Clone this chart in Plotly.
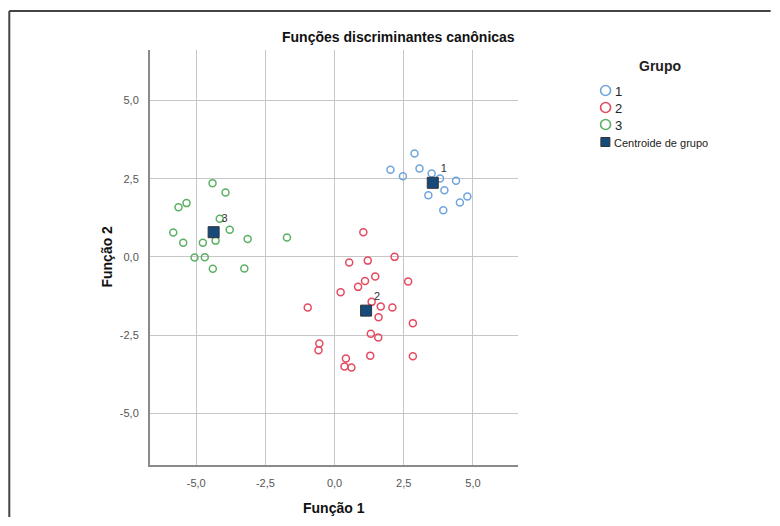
import plotly.graph_objects as go

# ---- data ----
g1_x = [2.89, 2.02, 2.47, 3.07, 3.51, 3.81, 4.39, 3.97, 3.39, 4.80, 4.53, 3.93]
g1_y = [3.31, 2.79, 2.58, 2.83, 2.67, 2.51, 2.44, 2.13, 1.97, 1.93, 1.74, 1.49]

g2_x = [1.04, 0.53, 1.20, 2.17, 1.47, 1.10, 2.66, 0.85, 0.22, -0.97, 1.34, 1.67,
        2.09, 1.59, 2.83, 1.31, 1.58, -0.55, -0.58, 1.29, 2.83, 0.41, 0.36, 0.61]
g2_y = [0.79, -0.18, -0.12, 0.00, -0.63, -0.77, -0.79, -0.96, -1.13, -1.62, -1.44, -1.59,
        -1.62, -1.93, -2.12, -2.46, -2.58, -2.77, -2.99, -3.16, -3.18, -3.25, -3.51, -3.54]

g3_x = [-4.41, -3.94, -5.64, -5.35, -4.15, -3.79, -5.83, -5.47, -4.76, -4.30, -3.14, -1.72,
        -5.06, -4.69, -4.40, -3.26]
g3_y = [2.36, 2.06, 1.59, 1.72, 1.22, 0.87, 0.78, 0.45, 0.45, 0.52, 0.57, 0.62,
        -0.02, -0.01, -0.38, -0.37]

cent_x = [3.55, 1.14, -4.37]
cent_y = [2.37, -1.72, 0.79]
cent_labels = ["1", "2", "3"]

tick_vals = [-5.0, -2.5, 0.0, 2.5, 5.0]
tick_labels = ["-5,0", "-2,5", "0,0", "2,5", "5,0"]
legend_labels = ["1", "2", "3"]
colors = ["#6fa5dd", "#e5495f", "#5bb062"]
cent_color = "#164a7b"

# ---- layout geometry (screen pixels; page body has an 8px margin) ----
OFF = 8
W, H = 780 - 2 * OFF, 526 - 2 * OFF
L, R, T, B = 149.5 - OFF, 518.0 - OFF, 50.0 - OFF, 465.0 - OFF
pw, ph = R - L, B - T


def px(xp):
    return (xp - OFF - L) / pw


def py(yp):
    return (B - (yp - OFF)) / ph


fig = go.Figure()
for xs, ys, c in zip([g1_x, g2_x, g3_x], [g1_y, g2_y, g3_y], colors):
    fig.add_trace(go.Scatter(
        x=xs, y=ys, mode="markers", showlegend=False,
        marker=dict(symbol="circle-open", size=7, color=c, line=dict(width=1.5, color=c)),
        hoverinfo="x+y"))

fig.add_trace(go.Scatter(
    x=cent_x, y=cent_y, mode="markers+text", text=cent_labels, showlegend=False,
    textposition="top right", textfont=dict(family="Liberation Sans, Arial", size=11, color="#333"),
    marker=dict(symbol="square", size=11, color=cent_color, line=dict(width=1, color="#333"))))

shapes = []
annotations = []

# outer frame (top and left lines)
shapes.append(dict(type="line", xref="paper", yref="paper",
                   x0=px(8.5), x1=px(OFF + W - 1), y0=py(11), y1=py(11),
                   line=dict(color="#444", width=2)))
shapes.append(dict(type="line", xref="paper", yref="paper",
                   x0=px(8.6), x1=px(8.6), y0=py(11), y1=py(OFF + H - 1),
                   line=dict(color="#444", width=2)))

# manual legend
annotations.append(dict(xref="paper", yref="paper", x=px(660), y=py(66), text="<b>Grupo</b>",
                        showarrow=False, xanchor="center", yanchor="middle",
                        font=dict(family="Liberation Sans, Arial", size=14, color="#222")))
leg_y = [90.5, 107.5, 124.5]
for lab, c, yy in zip(legend_labels, colors, leg_y):
    shapes.append(dict(type="circle", xref="paper", yref="paper",
                       xsizemode="pixel", ysizemode="pixel",
                       xanchor=px(605.7), yanchor=py(yy),
                       x0=-5, x1=5, y0=-5, y1=5,
                       line=dict(color=c, width=1.6), fillcolor="rgba(0,0,0,0)"))
    annotations.append(dict(xref="paper", yref="paper", x=px(613), y=py(yy + 0.5), text=lab,
                            showarrow=False, xanchor="left", yanchor="middle",
                            font=dict(family="Liberation Sans, Arial", size=13, color="#222")))
shapes.append(dict(type="rect", xref="paper", yref="paper",
                   xsizemode="pixel", ysizemode="pixel",
                   xanchor=px(605.5), yanchor=py(142),
                   x0=-4.5, x1=4.5, y0=-4.5, y1=4.5,
                   line=dict(color="#333", width=1), fillcolor=cent_color))
annotations.append(dict(xref="paper", yref="paper", x=px(612), y=py(142.5), text="Centroide de grupo",
                        showarrow=False, xanchor="left", yanchor="middle",
                        font=dict(family="Liberation Sans, Arial", size=11, color="#222")))

# titles
annotations.append(dict(xref="paper", yref="paper", x=px(398), y=py(37),
                        text="<b>Funções discriminantes canônicas</b>", showarrow=False,
                        xanchor="center", yanchor="middle",
                        font=dict(family="Liberation Sans, Arial", size=14, color="#111")))
annotations.append(dict(xref="paper", yref="paper", x=px(334), y=py(508),
                        text="<b>Função 1</b>", showarrow=False,
                        xanchor="center", yanchor="middle",
                        font=dict(family="Liberation Sans, Arial", size=14, color="#111")))
annotations.append(dict(xref="paper", yref="paper", x=px(106), y=py(257),
                        text="<b>Função 2</b>", showarrow=False, textangle=-90,
                        xanchor="center", yanchor="middle",
                        font=dict(family="Liberation Sans, Arial", size=14, color="#111")))

axis_common = dict(
    tickvals=tick_vals, ticktext=tick_labels, showgrid=True, gridcolor="#c6c6c6", gridwidth=1,
    zeroline=False, showline=True, linecolor="#8a8a8a", linewidth=2,
    ticks="", tickfont=dict(family="Liberation Sans, Arial", size=11, color="#555"),
    ticklabelstandoff=7, fixedrange=True)

fig.update_layout(
    width=W, height=H, autosize=False,
    margin=dict(l=L, r=W - R, t=T, b=H - B, pad=0),
    paper_bgcolor="white", plot_bgcolor="white",
    showlegend=False,
    xaxis=dict(range=[-6.67, 6.63], **axis_common),
    yaxis=dict(range=[-6.66, 6.62], **axis_common),
    shapes=shapes, annotations=annotations,
)

fig.write_html("out.html")
